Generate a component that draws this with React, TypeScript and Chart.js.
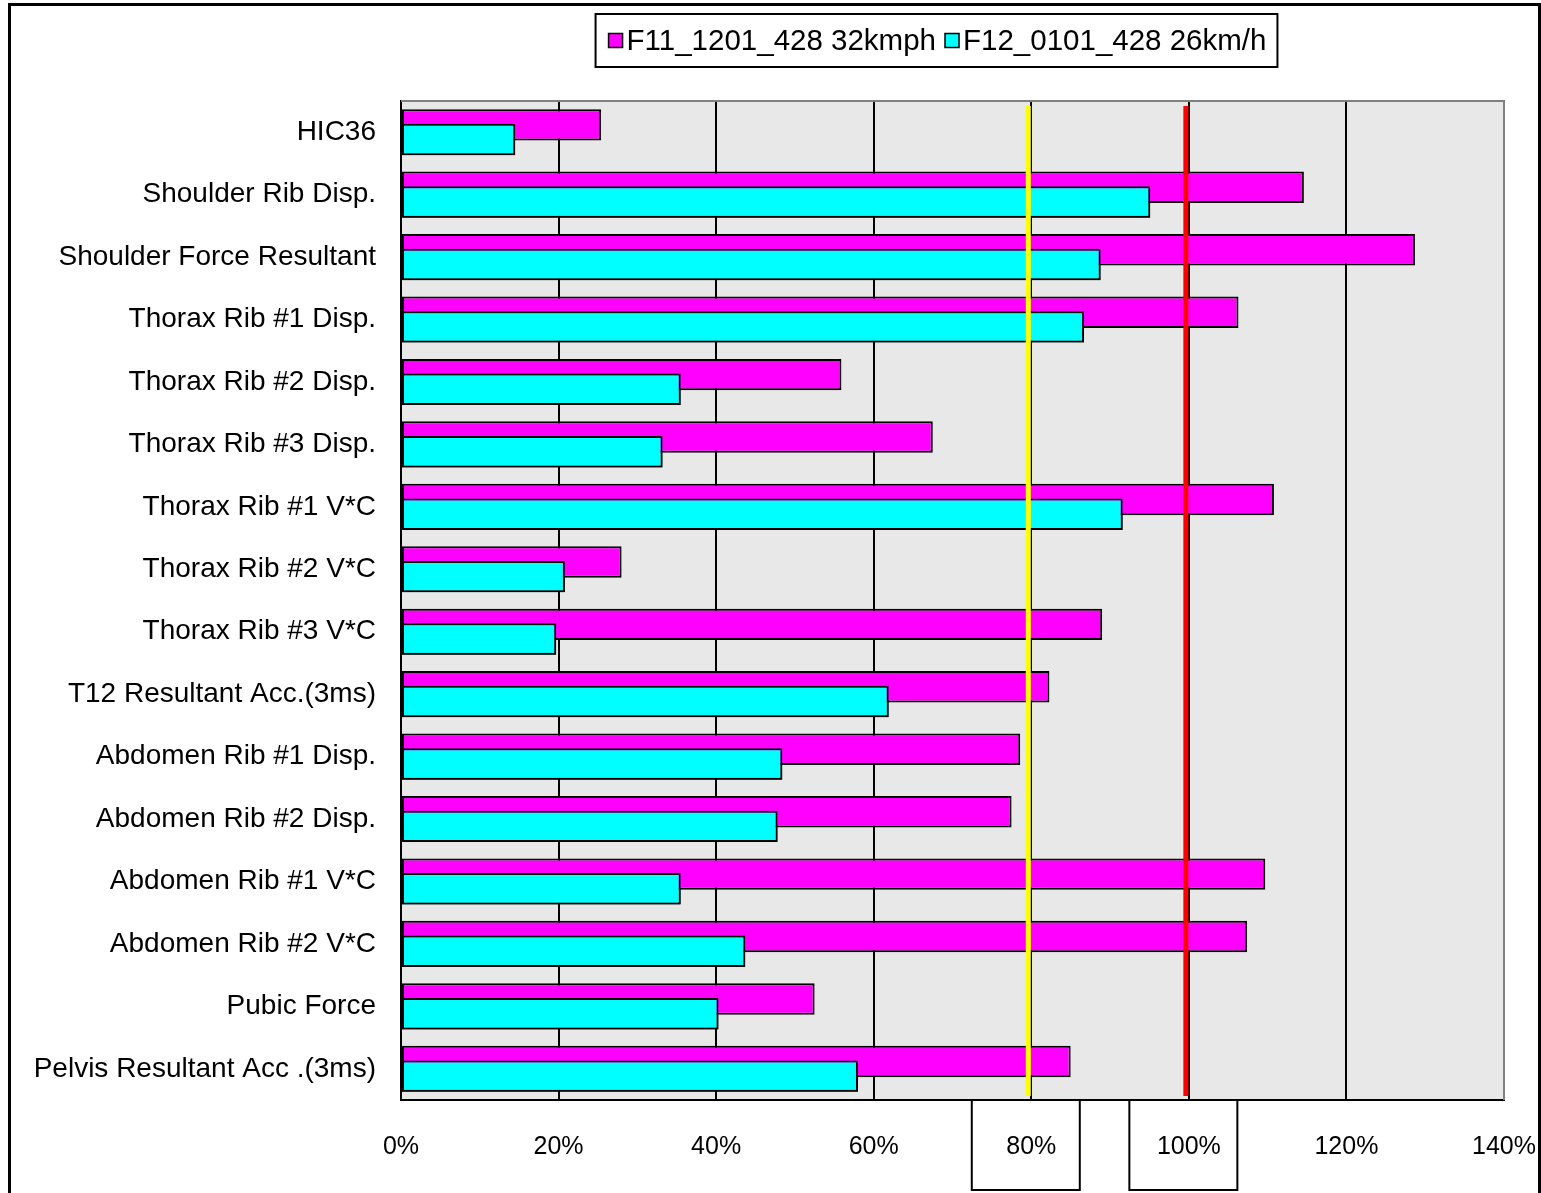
import React, { useEffect, useRef } from 'react';
import { Chart, registerables } from 'chart.js';

Chart.register(...registerables);

const categories = [
  'HIC36',
  'Shoulder Rib Disp.',
  'Shoulder Force Resultant',
  'Thorax Rib #1 Disp.',
  'Thorax Rib #2 Disp.',
  'Thorax Rib #3 Disp.',
  'Thorax Rib #1 V*C',
  'Thorax Rib #2 V*C',
  'Thorax Rib #3 V*C',
  'T12 Resultant Acc.(3ms)',
  'Abdomen Rib #1 Disp.',
  'Abdomen Rib #2 Disp.',
  'Abdomen Rib #1 V*C',
  'Abdomen Rib #2 V*C',
  'Pubic Force',
  'Pelvis Resultant Acc .(3ms)',
];

const seriesLabels = ['F11_1201_428 32kmph', 'F12_0101_428 26km/h'];
const seriesColors = ['#FF00FF', '#00FFFF'];

// percent of limit
const f11Values = [25.4, 114.6, 128.7, 106.3, 55.9, 67.5, 110.8, 28.0, 89.0, 82.3, 78.6, 77.5, 109.7, 107.4, 52.5, 85.0];
const f12Values = [14.5, 95.1, 88.8, 86.7, 35.5, 33.2, 91.6, 20.8, 19.7, 61.9, 48.4, 47.8, 35.5, 43.7, 40.3, 58.0];

const xMin = 0;
const xMax = 140;
const xStep = 20;

const thresholds = [80, 100];
const thresholdColors = ['#FFFF00', '#FF0000'];

const W = 1541;
const H = 1193;
const FONT = '"Liberation Sans", Arial, Helvetica, sans-serif';

const decorPlugin = {
  id: 'decor',
  beforeDraw(chart: any) {
    const { ctx, chartArea: a } = chart;
    ctx.save();
    ctx.fillStyle = '#E8E8E8';
    ctx.fillRect(a.left, a.top, a.right - a.left, a.bottom - a.top);
    ctx.restore();
  },
  afterDatasetsDraw(chart: any) {
    const { ctx, chartArea: a, scales } = chart;
    // second series overlaps the first: draw it again on top
    const meta = chart.getDatasetMeta(1);
    if (meta && meta.controller) {
      ctx.save();
      ctx.beginPath();
      ctx.rect(a.left, a.top, a.right - a.left, a.bottom - a.top);
      ctx.clip();
      meta.controller.draw();
      ctx.restore();
    }
    ctx.save();
    ctx.strokeStyle = '#808080';
    ctx.lineWidth = 2;
    ctx.beginPath();
    ctx.moveTo(a.left, a.top);
    ctx.lineTo(a.right, a.top);
    ctx.lineTo(a.right, a.bottom);
    ctx.stroke();
    thresholds.forEach((v, i) => {
      const px = scales.x.getPixelForValue(v) - 3;
      ctx.strokeStyle = thresholdColors[i];
      ctx.lineWidth = 5;
      ctx.beginPath();
      ctx.moveTo(px, a.top + 5);
      ctx.lineTo(px, a.bottom - 4);
      ctx.stroke();
    });
    ctx.restore();
  },
  afterDraw(chart: any) {
    const { ctx, chartArea: a, scales } = chart;
    ctx.save();
    ctx.strokeStyle = '#000';
    ctx.lineWidth = 2;
    thresholds.forEach((v) => {
      const cx = scales.x.getPixelForValue(v) - 5.5;
      ctx.strokeRect(cx - 54, a.bottom, 108, 90);
    });
    ctx.font = `29.5px ${FONT}`;
    const w1 = ctx.measureText(seriesLabels[0]).width;
    const w2 = ctx.measureText(seriesLabels[1]).width;
    const total = 13 + 14 + 4 + w1 + 9 + 14 + 4 + w2 + 11;
    const center = (a.left + a.right) / 2 - 16;
    const left = center - total / 2;
    const top = a.top - 87;
    const h = 53;
    ctx.fillStyle = '#fff';
    ctx.fillRect(left, top, total, h);
    ctx.strokeStyle = '#000';
    ctx.lineWidth = 2;
    ctx.strokeRect(left, top, total, h);
    const cy = top + h / 2;
    let x = left + 13;
    [w1, w2].forEach((w, i) => {
      ctx.fillStyle = seriesColors[i];
      ctx.fillRect(x, cy - 7, 14, 14);
      ctx.lineWidth = 1.5;
      ctx.strokeStyle = '#000';
      ctx.strokeRect(x, cy - 7, 14, 14);
      x += 18;
      ctx.fillStyle = '#000';
      ctx.textAlign = 'left';
      ctx.textBaseline = 'middle';
      ctx.fillText(seriesLabels[i], x, cy + 1);
      x += w + 9;
    });
    ctx.restore();
  },
};

export default function App() {
  const ref = useRef<HTMLCanvasElement>(null);

  useEffect(() => {
    const canvas = ref.current;
    if (!canvas) return;
    const barStyle = {
      borderColor: '#000',
      borderWidth: 2,
      borderSkipped: false,
      categoryPercentage: 0.47,
      barPercentage: 2.14,
    };
    const chart = new Chart(canvas, {
      type: 'bar',
      data: {
        labels: categories,
        datasets: [
          { label: seriesLabels[0], data: f11Values, backgroundColor: seriesColors[0], ...barStyle },
          { label: seriesLabels[1], data: f12Values, backgroundColor: seriesColors[1], ...barStyle },
        ],
      },
      options: {
        indexAxis: 'y',
        responsive: false,
        animation: false,
        events: [],
        layout: { padding: { left: 10, top: 101, right: 37, bottom: 0 } },
        plugins: {
          legend: { display: false },
          tooltip: { enabled: false },
        },
        scales: {
          x: {
            type: 'linear',
            position: 'bottom',
            min: xMin,
            max: xMax,
            ticks: {
              stepSize: xStep,
              color: '#000',
              padding: 32,
              font: { family: FONT, size: 25 },
              callback: (v: any) => `${v}%`,
            },
            grid: {
              color: (c: any) => (c.tick && c.tick.value === xMax ? '#808080' : '#000'),
              lineWidth: 2,
              drawTicks: false,
            },
            border: { color: '#000', width: 2 },
            afterFit: (s: any) => {
              s.height = 93;
              s.paddingLeft = 0;
              s.paddingRight = 0;
            },
          },
          y: {
            type: 'category',
            position: 'left',
            offset: true,
            grid: { display: false, drawTicks: false },
            border: { color: '#000', width: 2 },
            ticks: {
              autoSkip: false,
              color: '#000',
              padding: 25,
              font: { family: FONT, size: 28 },
            },
            afterFit: (s: any) => {
              s.width = 391;
              s.paddingTop = 0;
              s.paddingBottom = 0;
            },
          },
        } as any,
      },
      plugins: [decorPlugin],
    } as any);
    return () => chart.destroy();
  }, []);

  return (
    <div
      style={{
        position: 'absolute',
        left: 0,
        top: 0,
        width: W,
        height: H,
        overflow: 'hidden',
        background: '#fff',
      }}
    >
      <div
        style={{
          position: 'absolute',
          left: 8,
          top: 3,
          width: W - 8,
          height: H + 100,
          border: '3px solid #000',
          boxSizing: 'border-box',
        }}
      />
      <canvas
        ref={ref}
        width={W}
        height={H}
        style={{ position: 'absolute', left: 0, top: 0, width: W, height: H }}
      />
    </div>
  );
}
